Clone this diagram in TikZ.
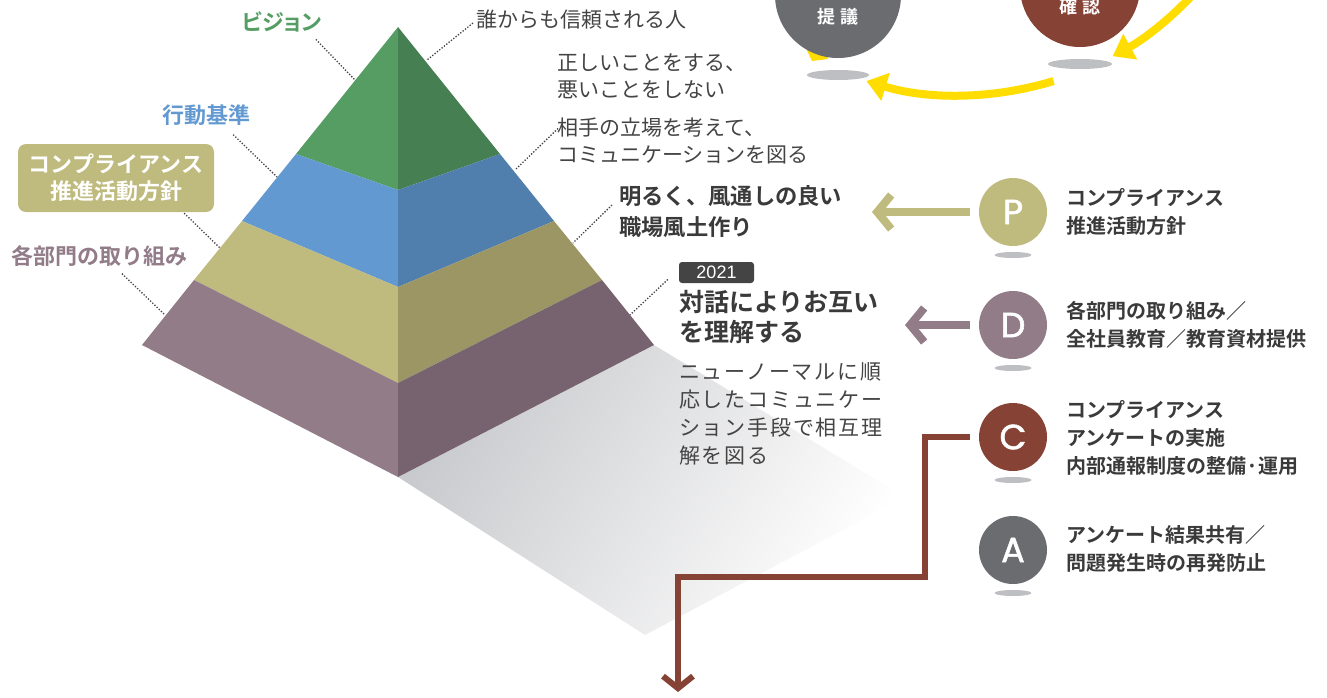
\documentclass[tikz,border=0pt]{standalone}
\usepackage{fontspec}
\setmainfont{Noto Sans CJK JP}[BoldFont={Noto Sans CJK JP Bold}]
\newfontfamily\pdcafont{Poppins}[FakeBold=1.6]
\newfontfamily\numfont{Liberation Sans}
\usetikzlibrary{arrows.meta,positioning}

\definecolor{greenL}{HTML}{559D63}
\definecolor{greenR}{HTML}{468052}
\definecolor{blueL}{HTML}{6399D1}
\definecolor{blueR}{HTML}{507EAD}
\definecolor{khakiL}{HTML}{BFBA7E}
\definecolor{khakiR}{HTML}{9C9665}
\definecolor{purpleL}{HTML}{927C88}
\definecolor{purpleR}{HTML}{77636F}
\definecolor{rust}{HTML}{874236}
\definecolor{slate}{HTML}{6B6C70}
\definecolor{sunny}{HTML}{FFDD00}
\definecolor{puddle}{HTML}{BEBFC3}
\definecolor{floor}{HTML}{C9CACD}
\definecolor{darktext}{HTML}{3A3A3A}
\definecolor{notegray}{HTML}{444444}

\begin{document}
\begin{tikzpicture}[x=1pt,y=-1pt,
  leader/.style={draw=black!75, line width=1.3pt, dash pattern=on 1.3pt off 1.7pt},
  sidelabel/.style={font=\bfseries\fontsize{22}{27}\selectfont, inner sep=0pt},
  note/.style={anchor=west, align=left, inner sep=0pt, text=notegray, font=\fontsize{21}{27}\selectfont},
  keynote/.style={anchor=west, align=left, inner sep=0pt, text=darktext, font=\bfseries\fontsize{22.3}{31}\selectfont},
  pdca/.style={circle, minimum size=68pt, inner sep=0pt, text=white, font=\pdcafont\fontsize{35}{35}\selectfont},
  pdcanote/.style={anchor=west, align=left, inner sep=0pt, text=darktext, font=\bfseries\fontsize{20}{28}\selectfont},
  flow/.style={line width=8pt, -{Straight Barb[length=14pt,width=34pt]}},
  cyclearrow/.style={draw=sunny, line width=8pt, -{Triangle[length=20pt,width=28pt]}},
  topcirc/.style={circle, inner sep=0pt},
  toptext/.style={text=white, font=\bfseries\fontsize{18}{18}\selectfont, inner sep=0pt}]
  \useasboundingbox (0,0) rectangle (1327,697);

  % cycle at the top right
  \coordinate (hub) at (960,-225);
  \fill[sunny] (802,40) -- (812,61) -- (828,59) -- (828,40) -- cycle;
  \draw[cyclearrow] ([shift={(40:320)}]hub) arc[start angle=40, end angle=61.5, radius=320];
  \draw[cyclearrow] ([shift={(73:320)}]hub) arc[start angle=73, end angle=107, radius=320];
  \fill[puddle] (838,75) ellipse [x radius=31pt, y radius=5pt];
  \fill[puddle] (1080,64) ellipse [x radius=32pt, y radius=5pt];
  \node[topcirc, fill=slate, minimum size=126pt] (teigi) at (838,-5) {};
  \node[topcirc, fill=rust, minimum size=120pt] (kakunin) at (1080,-13) {};
  \node[toptext] (teigitxt) at (838,17) {提\hspace{5pt}議};
  \node[toptext] (kakunintxt) at (1080,7) {確\hspace{5pt}認};

  % shadow of the pyramid
  \begin{scope}
    \clip (398,477) -- (654,345) -- (905,497) -- (645,635) -- cycle;
    \shade[top color=floor, bottom color=white, shading angle=59]
      (398,345) rectangle (905,635);
  \end{scope}

  % pyramid
  \coordinate (apex) at (398,27);
  \fill[greenL] (apex) -- (296,154) -- (398,190) -- cycle;
  \fill[greenR] (apex) -- (398,190) -- (500,154) -- cycle;
  \fill[blueL] (296,154) -- (242,221) -- (398,287) -- (398,190) -- cycle;
  \fill[blueR] (398,190) -- (398,287) -- (554,221) -- (500,154) -- cycle;
  \fill[khakiL] (242,221) -- (194,280) -- (398,383) -- (398,287) -- cycle;
  \fill[khakiR] (398,287) -- (398,383) -- (602,280) -- (554,221) -- cycle;
  \fill[purpleL] (194,280) -- (142,345) -- (398,477) -- (398,383) -- cycle;
  \fill[purpleR] (398,383) -- (398,477) -- (654,345) -- (602,280) -- cycle;

  % labels on the left
  \node[sidelabel, text=greenL] (visionlbl) at (282,22) {\addfontfeature{RawFeature=+palt}ビジョン};
  \node[sidelabel, text=blueL] (kodolbl) at (206,115) {行動基準};
  \node[sidelabel, text=white, fill=khakiL, rounded corners=8pt, minimum width=196pt,
    minimum height=68pt, align=center] (suishin) at (116,178) {コンプライアンス\\推進活動方針};
  \node[sidelabel, text=purpleL] (bumonlbl) at (99,256) {各部門の取り組み};

  \coordinate (visionpt) at (355,80);
  \coordinate (kodopt) at (277,177);
  \coordinate (suishinpt) at (220,248);
  \coordinate (bumonpt) at (165,315);
  \draw[leader] ([shift={(-6,7)}]visionlbl.south east) -- (visionpt);
  \draw[leader] ([shift={(-17,9)}]kodolbl.south east) -- (kodopt);
  \draw[leader] ([shift={(-30,1)}]suishin.south east) -- (suishinpt);
  \draw[leader] ([shift={(23,7)}]bumonlbl.south) -- (bumonpt);

  % notes on the right of the pyramid
  \node[note] (darelbl) at (476,20) {誰からも信頼される人};
  \node[note] (tadashilbl) at (557,76.5) {正しいことをする、\\悪いことをしない};
  \node[note] (aitelbl) at (557,140.5) {相手の立場を考えて、\\コミュニケーションを図る};
  \node[keynote] (akarulbl) at (619,211.5) {明るく、風通しの良い\\職場風土作り};
  \node[fill=notegray, rounded corners=3pt, minimum width=75pt, minimum height=21pt,
    inner sep=0pt, text=white, font=\numfont\fontsize{18}{18}\selectfont] (year) at (716.5,272.5) {2021};
  \node[keynote, font=\bfseries\fontsize{25}{30}\selectfont] (taiwalbl) at (679,317) {対話によりお互い\\を理解する};
  \node[note, font=\fontsize{21}{28}\selectfont\addfontfeature{LetterSpace=8.5}] (newnormal) at (679,414)
    {ニューノーマルに順\\応したコミュニケー\\ション手段で相互理\\解を図る};

  \coordinate (darept) at (427,60);
  \coordinate (aitept) at (515,170);
  \coordinate (akarupt) at (573,243);
  \coordinate (taiwapt) at (630,315);
  \draw[leader] ([shift={(-3,3)}]darelbl.west) -- (darept);
  \draw[leader] ([shift={(1,-12)}]aitelbl.west) -- (aitept);
  \draw[leader] ([shift={(-7,-6.5)}]akarulbl.west) -- (akarupt);
  \draw[leader] ([shift={(-11,7)}]year.west) -- (taiwapt);

  % PDCA
  \node[pdca, fill=khakiL] (P) at (1013,212) {P};
  \node[pdca, fill=purpleL] (D) at (1013,325) {D};
  \node[pdca, fill=rust] (C) at (1013,437) {C};
  \node[pdca, fill=slate] (A) at (1013,550) {A};
  \fill[puddle] (1013,255) ellipse [x radius=18.5pt, y radius=3pt];
  \fill[puddle] (1013,368) ellipse [x radius=18.5pt, y radius=3pt];
  \fill[puddle] (1013,480) ellipse [x radius=18.5pt, y radius=3pt];
  \fill[puddle] (1013,593) ellipse [x radius=18.5pt, y radius=3pt];

  \node[pdcanote] (Ptxt) at (1066,212) {コンプライアンス\\推進活動方針};
  \node[pdcanote] (Dtxt) at (1066,324.5) {各部門の取り組み／\\全社員教育／教育資材提供};
  \node[pdcanote] (Ctxt) at (1066,437.5) {コンプライアンス\\アンケートの実施\\内部通報制度の整備·運用};
  \node[pdcanote] (Atxt) at (1066,549) {アンケート結果共有／\\問題発生時の再発防止};

  \coordinate (Pend) at (872,212);
  \coordinate (Dend) at (905,325);
  \coordinate (Cbend) at (925,577);
  \coordinate (Cend) at (678,692);
  \draw[flow, draw=khakiL] ([xshift=-9pt]P.west) -- (Pend);
  \draw[flow, draw=purpleL] ([xshift=-9pt]D.west) -- (Dend);
  \draw[draw=rust, line width=6pt, -{Straight Barb[length=12pt,width=30pt]}]
    ([xshift=-9pt]C.west) -| (Cbend) -| (Cend);
\end{tikzpicture}
\end{document}
